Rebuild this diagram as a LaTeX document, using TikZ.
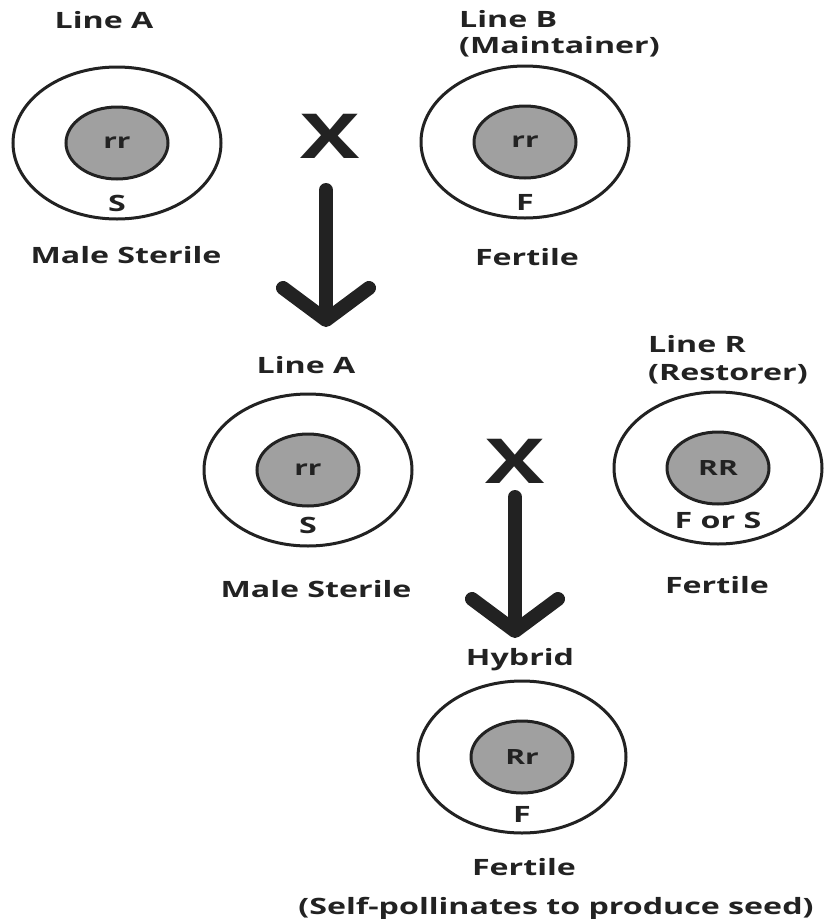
\documentclass[tikz,border=0pt]{standalone}
\usepackage{fontspec}
\setmainfont{Open Sans}[FakeStretch=1.43]
\usepackage{tikz}
\usetikzlibrary{positioning,arrows.meta,shapes.geometric}
\definecolor{ink}{HTML}{222222}
\definecolor{cellgray}{HTML}{A0A0A0}

\begin{document}
\begin{tikzpicture}[x=1pt, y=-1pt,
			outer/.style={draw=ink, ellipse, line width=3pt, minimum width=208pt, minimum height=152pt},
			inner/.style={draw=ink, fill=cellgray, ellipse, line width=3pt, minimum width=102pt, minimum height=72pt, inner sep=0pt, text=ink, font=\fontsize{21}{21}\selectfont\bfseries},
			lbl/.style={inner sep=0pt, text=ink, font=\fontsize{22.5}{26}\selectfont\bfseries},
			cross/.style={inner sep=0pt, anchor=base, text=ink, font=\fontsize{62}{62}\selectfont\bfseries},
			arrow/.style={draw=ink, line width=14pt, line cap=round, -{Straight Barb[length=32pt,width=86pt,round]}}]
			
			\useasboundingbox (0,0) rectangle (825,919);
			
			% first cross: A x B
			\node[outer] (outA1) at (117,143) {};
			\node[inner] (innA1) at (outA1) {rr};
			\node[lbl, anchor=base] (nameA1) at (104,28) {Line A};
			\node[lbl, below=15pt of innA1] (cytA1) {S};
			\node[lbl, anchor=base] (phenA1) at (126,263) {Male Sterile};
			
			\node[cross] (crossA1) at (330,158) {X};
			
			\node[outer] (outB) at (525,142) {};
			\node[inner] (innB) at (outB) {rr};
			\node[lbl, anchor=base west] (nameB) at (459,27) {Line B};
			\node[lbl, anchor=base west] (roleB) at (459,53) {(Maintainer)};
			\node[lbl, below=14.5pt of innB] (cytB) {F};
			\node[lbl, anchor=base] (phenB) at (527,265) {Fertile};
			
			\coordinate (arr1top) at (326,190);
			\coordinate (arr1tip) at (326,327);
			\draw[arrow] (arr1top) -- (arr1tip);
			
			% second cross: A x R
			\node[outer] (outA2) at (308,470) {};
			\node[inner] (innA2) at (outA2) {rr};
			\node[lbl, anchor=base] (nameA2) at (306,373) {Line A};
			\node[lbl, below=9pt of innA2] (cytA2) {S};
			\node[lbl, anchor=base] (phenA2) at (316,597) {Male Sterile};
			
			\node[cross] (crossA2) at (515,483) {X};
			
			\node[outer] (outR) at (718,468) {};
			\node[inner] (innR) at (outR) {RR};
			\node[lbl, anchor=base west] (nameR) at (648,352) {Line R};
			\node[lbl, anchor=base west] (roleR) at (648,380) {(Restorer)};
			\node[lbl, below=6pt of innR] (cytR) {F or S};
			\node[lbl, anchor=base] (phenR) at (717,593) {Fertile};
			
			\coordinate (arr2top) at (515,497);
			\coordinate (arr2tip) at (515,638);
			\draw[arrow] (arr2top) -- (arr2tip);
			
			% hybrid
			\node[outer] (outH) at (522,757) {};
			\node[inner] (innH) at (outH) {Rr};
			\node[lbl, anchor=base] (nameH) at (520,665) {Hybrid};
			\node[lbl, below=11.5pt of innH] (cytH) {F};
			\node[lbl, anchor=base] (phenH) at (524,875) {Fertile};
			\node[lbl, anchor=base] (noteH) at (556,914) {(Self-pollinates to produce seed)};
			
		\end{tikzpicture}
\end{document}
